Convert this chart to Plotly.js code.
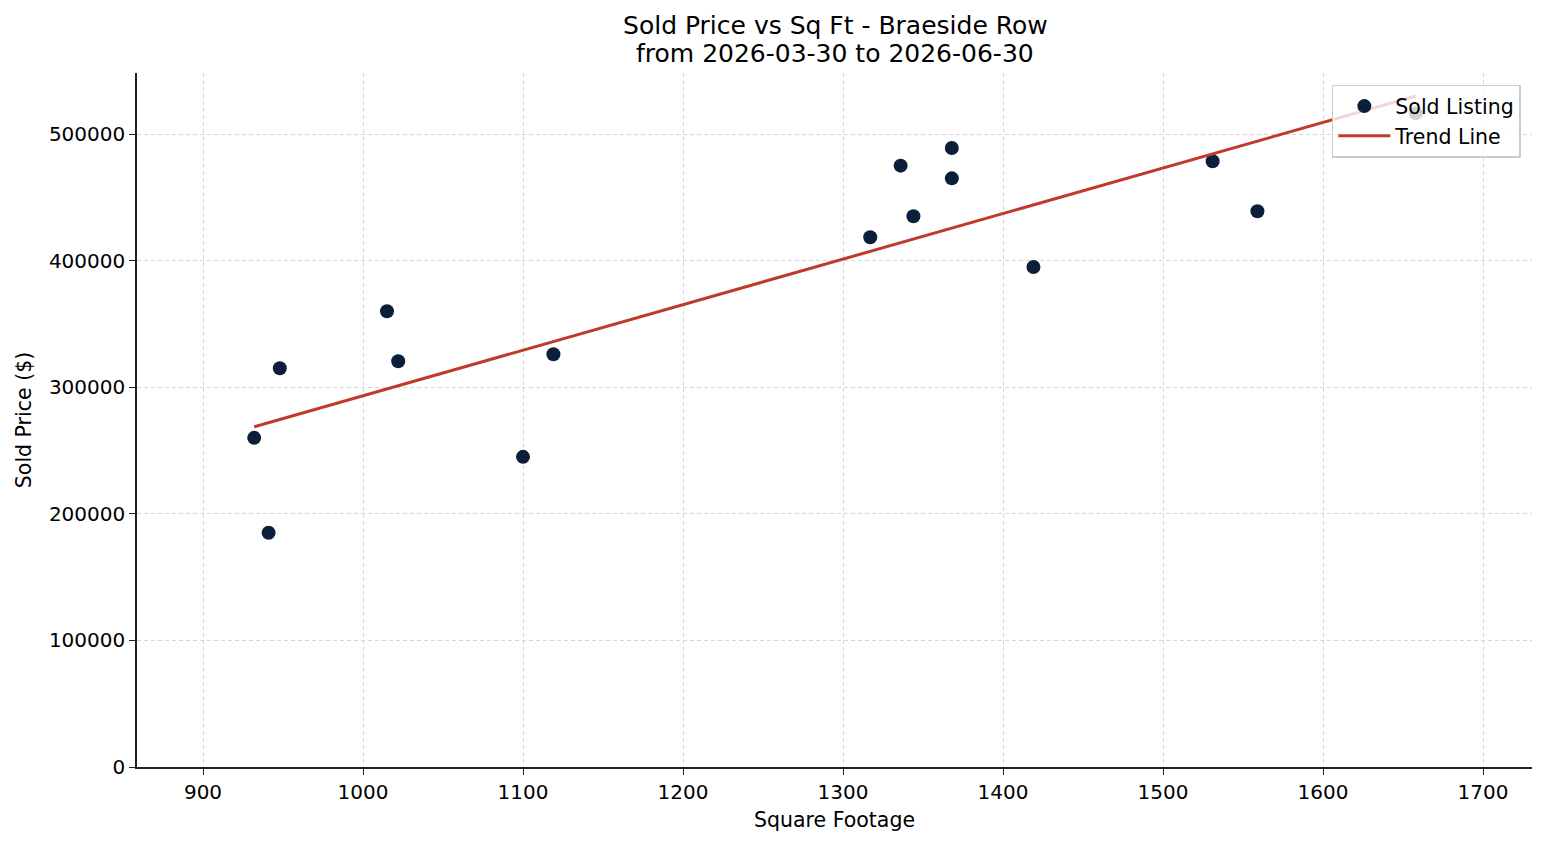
<!DOCTYPE html>
<html>
<head>
<meta charset="utf-8">
<script src="https://cdn.plot.ly/plotly-3.0.1.min.js"></script>
<style>
  html, body { margin: 0; padding: 0; background: #ffffff; }
  #chart { width: 1547px; height: 845px; }
</style>
</head>
<body>
<div id="chart"></div>
<script>
// Sold listings on Braeside Row: floor area (sq ft) and sold price ($)
const sqFt = [932, 941, 948, 1015, 1022, 1100, 1119, 1317, 1336, 1344, 1368, 1368, 1419, 1531, 1559, 1658];
const soldPrice = [260000, 185000, 315000, 360000, 320500, 245000, 326000, 418500, 475000, 435000, 489000, 465000, 395000, 478500, 439000, 516500];

// Fitted trend line end points
const trendSqFt = [932, 1658];
const trendPrice = [268800, 530000];

const yTicks = [0, 100000, 200000, 300000, 400000, 500000];
const xTicks = [900, 1000, 1100, 1200, 1300, 1400, 1500, 1600, 1700];

const titleLine = 'Sold Price vs Sq Ft - Braeside Row';
const periodLine = 'from 2026-03-30 to 2026-06-30';

const FONT = 'DejaVu Sans, sans-serif';

const traces = [
  {
    type: 'scatter',
    mode: 'markers',
    name: 'Sold Listing',
    x: sqFt,
    y: soldPrice,
    marker: { color: '#0b1f3a', size: 14, line: { width: 0 } }
  },
  {
    type: 'scatter',
    mode: 'lines',
    name: 'Trend Line',
    x: trendSqFt,
    y: trendPrice,
    line: { color: '#c0392b', width: 3 }
  }
];

const gridStyle = {
  showgrid: true,
  gridcolor: '#d6d6d6',
  griddash: '4px,3px',
  gridwidth: 0.8,
  zeroline: false,
  showline: true,
  linecolor: '#222222',
  linewidth: 1.5,
  ticks: 'outside',
  ticklen: 6,
  tickwidth: 1.2,
  tickcolor: '#222222',
  tickfont: { family: FONT, size: 20, color: '#000000' }
};

const layout = {
  width: 1547,
  height: 845,
  paper_bgcolor: '#ffffff',
  plot_bgcolor: '#ffffff',
  margin: { l: 137, r: 15, t: 73, b: 78 },
  showlegend: true,
  title: {
    text: titleLine,
    font: { family: FONT, size: 25, color: '#000000' },
    x: 0.54,
    xanchor: 'center',
    yref: 'container',
    y: 0.9705,
    yanchor: 'middle'
  },
  annotations: [
    {
      text: periodLine,
      xref: 'paper', yref: 'paper',
      x: 0.5, y: 1.0288,
      xanchor: 'center', yanchor: 'middle',
      showarrow: false,
      font: { family: FONT, size: 25, color: '#000000' }
    }
  ],
  xaxis: Object.assign({}, gridStyle, {
    range: [858.75, 1730.6],
    tickvals: xTicks,
    ticktext: xTicks.map(String),
    title: { text: 'Square Footage', font: { family: FONT, size: 20.5, color: '#000000' }, standoff: 10 }
  }),
  yaxis: Object.assign({}, gridStyle, {
    range: [0, 548200],
    tickvals: yTicks,
    ticktext: yTicks.map(String),
    title: { text: 'Sold Price ($)', font: { family: FONT, size: 20.5, color: '#000000' }, standoff: 12 }
  }),
  legend: {
    x: 0.992,
    xanchor: 'right',
    y: 0.983,
    yanchor: 'top',
    bgcolor: 'rgba(255,255,255,0.8)',
    bordercolor: '#cccccc',
    borderwidth: 1.5,
    font: { family: FONT, size: 20.5, color: '#000000' },
    itemwidth: 52,
    tracegroupgap: 0
  }
};

Plotly.newPlot('chart', traces, layout, { displayModeBar: false, responsive: false });
</script>
</body>
</html>
